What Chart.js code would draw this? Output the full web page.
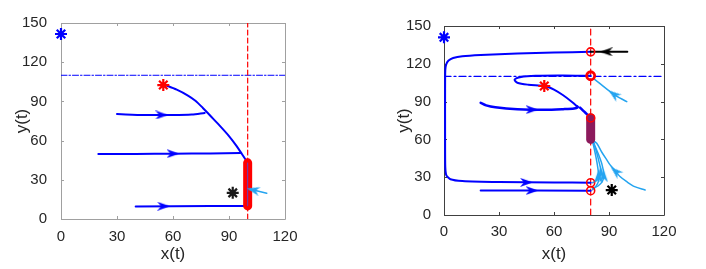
<!DOCTYPE html>
<html>
<head>
<meta charset="utf-8">
<script src="https://cdn.jsdelivr.net/npm/chart.js@4.4.1/dist/chart.umd.min.js"></script>
<style>
  body { margin: 0; background: #fff; width: 706px; height: 269px; overflow: hidden; position: relative; }
  canvas { position: absolute; top: 0; }
  #left { left: 0; }
  #right { left: 380px; }
</style>
</head>
<body>
<canvas id="left" width="330" height="269"></canvas>
<canvas id="right" width="326" height="269"></canvas>
<script>
// axis setup shared by both panels
const xTicks = [0, 30, 60, 90, 120];
const yTicks = [0, 30, 60, 90, 120, 150];

// ---- left panel (threshold x = 100) ----
const leftThreshX = 100;
const leftThreshY = 110;
const leftBlueStar = [[0, 141.6]];
const leftRedStar = [[54.8, 102.5]];
const leftBlackStar = [[92, 20]];
const leftMain = [[55, 103], [62, 99], [68, 94.5], [72, 90.5], [76, 85], [80, 79], [85, 71.5], [90, 63.5], [94, 56], [97, 49.5], [100, 43]];
const leftTraj80 = [[30, 80.3], [45, 79.6], [60, 79.6], [70, 80], [77, 81.2]];
const leftTraj50 = [[20, 49.7], [40, 49.8], [60, 50], [80, 50.2], [96, 50.5]];
const leftTraj10 = [[40, 9.6], [60, 9.8], [80, 9.9], [100, 10]];
const leftStable = [[100, 10], [100, 43]];
const leftCyan = [[110.2, 19.7], [101.5, 22.7]];
// arrows: x, y, dx, dy
const leftArrows = [[54, 79.6, 1, 0], [60, 50, 1, 0], [55, 9.8, 1, 0]];
const leftCyanArrows = [[103, 22.2, -8.7, 3]];

// ---- right panel (threshold x = 80) ----
const rightThreshX = 80;
const rightThreshY = 110;
const rightBlueStar = [[0, 141]];
const rightRedStar = [[54.7, 102.4]];
const rightBlackStar = [[91.5, 19.8]];
const rightOuter = [[80, 129.5], [60, 129], [40, 128.2], [20, 127], [10, 126], [5, 124.6], [2.5, 122.6], [1.2, 119.5], [0.7, 115],
  [0.6, 100], [0.6, 60], [0.7, 38], [1.3, 31.5], [3.5, 28.4], [10, 27], [30, 26.2], [60, 25.8], [80, 25.6]];
const rightLoop = [[80, 110.5], [65, 110.8], [50, 110.6], [42, 109.6], [38.5, 107.5], [40, 105], [46, 103.4], [55, 102.4],
  [60, 99.5], [65, 95], [70, 89.5], [72.5, 86.3]];
const rightLower = [[20, 89], [23, 87], [28, 85.5], [40, 84], [55, 83.5], [65, 84], [71, 84.6], [73, 85.6], [72.5, 86.3]];
const rightLink = [[74.2, 85.3], [76.5, 82], [78.5, 79.3], [80, 77]];
const rightBottom = [[20, 19.5], [50, 19.4], [80, 19.3]];
const rightBlack = [[100, 129.5], [80, 129.5]];
const rightStable = [[80, 60], [80, 77]];
const rightCircles = [[80, 129.5], [80, 77], [80, 25.6], [80, 19.3]];
const rightCircleBold = [[80, 110.5]];
const rightCyanTop = [[99.7, 89.9], [92, 96.4], [81.5, 108.5]];
const rightCyanRight = [[109.7, 19.8], [104, 22.5], [99.7, 26.4], [96, 30.5], [93.3, 35.2], [90.5, 40], [88.8, 43.7], [86, 50], [83.3, 56.9], [80.9, 59.5]];
const rightCyanA = [[81, 21], [84, 23], [86.5, 27], [87.2, 32], [86.2, 40], [84.3, 48], [82.3, 55], [80.8, 61]];
const rightCyanB = [[81, 25.6], [83, 27], [85, 30], [85.6, 35], [84.6, 42], [83.2, 50], [81.6, 57], [80.5, 62]];
const rightCyanC = [[81, 20], [83, 23], [84.3, 27], [84.2, 34], [83.4, 42], [82.2, 51], [80.6, 61]];
const rightArrows = [[45, 25.9, 1, 0], [48, 19.4, 1, 0], [48, 83.6, 1, 0]];
const rightBlackArrows = [[88.5, 129.5, -1, 0]];
const rightCyanArrows = [[92.6, 95.8, -1, 1.1], [93.6, 34.6, -1, 1.3], [87.1, 31, 0, 1], [85.5, 33.5, 0, 1], [84.2, 30.5, 0, 1]];

const BLUE = '#0000ff';
const CYAN = '#24a4f0';
const RED = '#ff0000';

const xy = pts => pts.map(([x, y]) => ({ x, y }));

function arrowHead(color) {
  const c = document.createElement('canvas');
  c.width = 13; c.height = 9;
  const g = c.getContext('2d');
  g.fillStyle = color;
  g.beginPath();
  g.moveTo(13, 4.5); g.lineTo(0, 0); g.lineTo(4, 4.5); g.lineTo(0, 9);
  g.closePath(); g.fill();
  return c;
}

function line(pts, color, width, dash, tension) {
  return {
    data: xy(pts), showLine: true, borderColor: color, borderWidth: width,
    borderDash: dash || [], pointRadius: 0, tension: tension || 0, borderCapStyle: 'round'
  };
}

function arrows(list, color) {
  return {
    data: xy(list), showLine: false, pointStyle: arrowHead(color), clip: false,
    rotation: ctx => {
      if (ctx.dataIndex === undefined) return 0;
      const a = list[ctx.dataIndex];
      const sx = ctx.chart.scales.x, sy = ctx.chart.scales.y;
      const dx = sx.getPixelForValue(a[0] + a[2]) - sx.getPixelForValue(a[0]);
      const dy = sy.getPixelForValue(a[1] + a[3]) - sy.getPixelForValue(a[1]);
      return Math.atan2(dy, dx) * 180 / Math.PI;
    }
  };
}

function stars(pts, color) {
  return { data: xy(pts), pointStyle: 'star', pointRadius: 6, borderColor: color, borderWidth: 2.2, clip: false };
}

function circles(pts, width) {
  return { data: xy(pts), pointStyle: 'circle', pointRadius: 4, borderColor: RED, borderWidth: width,
    backgroundColor: 'rgba(0,0,0,0)', clip: false };
}

// box with inward ticks, MATLAB style
const boxPlugin = {
  id: 'box',
  beforeDatasetsDraw(chart, args, opts) {
    const { ctx, chartArea: a, scales } = chart;
    ctx.save();
    ctx.strokeStyle = opts.color;
    ctx.lineWidth = 1;
    ctx.beginPath();
    ctx.rect(a.left + 0.5, a.top + 0.5, a.right - a.left, a.bottom - a.top);
    const L = 3;
    scales.x.ticks.forEach(t => {
      const p = Math.round(scales.x.getPixelForValue(t.value)) + 0.5;
      ctx.moveTo(p, a.bottom); ctx.lineTo(p, a.bottom - L);
      ctx.moveTo(p, a.top); ctx.lineTo(p, a.top + L);
    });
    scales.y.ticks.forEach(t => {
      const p = Math.round(scales.y.getPixelForValue(t.value)) + 0.5;
      ctx.moveTo(a.left, p); ctx.lineTo(a.left + L, p);
      ctx.moveTo(a.right, p); ctx.lineTo(a.right - L, p);
    });
    ctx.stroke();
    ctx.restore();
  }
};

function makeChart(id, datasets, pad, yWidth, xHeight, boxColor, tickPad) {
  return new Chart(document.getElementById(id), {
    type: 'scatter',
    data: { datasets: datasets.reverse() },
    options: {
      responsive: false, animation: false,
      layout: { padding: pad },
      plugins: { legend: { display: false }, tooltip: { enabled: false }, box: { color: boxColor } },
      scales: {
        x: {
          min: 0, max: 120,
          afterBuildTicks: s => { s.ticks = xTicks.map(v => ({ value: v })); },
          afterFit: s => { s.height = xHeight; },
          grid: { display: false }, border: { display: false },
          ticks: { color: '#262626', padding: tickPad[0], font: { family: 'Liberation Sans, Arial', size: 15 } },
          title: { display: true, text: 'x(t)', color: '#262626', padding: { top: 0, bottom: 0 },
            font: { family: 'Liberation Sans, Arial', size: 17 } }
        },
        y: {
          min: 0, max: 150,
          afterBuildTicks: s => { s.ticks = yTicks.map(v => ({ value: v })); },
          afterFit: s => { s.width = yWidth; },
          grid: { display: false }, border: { display: false },
          ticks: { color: '#262626', padding: tickPad[1], font: { family: 'Liberation Sans, Arial', size: 15 } },
          title: { display: true, text: 'y(t)', color: '#262626', padding: { top: 0, bottom: 0 },
            font: { family: 'Liberation Sans, Arial', size: 17 } }
        }
      }
    },
    plugins: [boxPlugin]
  });
}

// datasets listed bottom to top
const leftSets = [
  line([[0, leftThreshY], [120, leftThreshY]], BLUE, 1, [6, 2, 1.5, 2]),
  line([[leftThreshX, 0], [leftThreshX, 150]], RED, 1.2, [5, 3]),
  line(leftMain, BLUE, 2, null, 0.3),
  line(leftTraj80, BLUE, 2, null, 0.3),
  line(leftTraj50, BLUE, 2, null, 0.3),
  line(leftTraj10, BLUE, 2),
  line(leftStable, RED, 9),
  line(leftStable, '#6040c0', 1),
  line(leftCyan, CYAN, 1.5),
  arrows(leftArrows, BLUE),
  arrows(leftCyanArrows, CYAN),
  stars(leftBlueStar, BLUE),
  stars(leftRedStar, RED),
  stars(leftBlackStar, '#1a1a1a')
];

const rightSets = [
  line([[0, rightThreshY], [120, rightThreshY]], BLUE, 1.2, [7, 3, 2, 3]),
  line([[rightThreshX, 0], [rightThreshX, 150]], RED, 1.2, [6, 4]),
  line(rightCyanTop, CYAN, 1.5, null, 0.3),
  line(rightCyanRight, CYAN, 1.5, null, 0.3),
  line(rightCyanA, CYAN, 1.5, null, 0.3),
  line(rightCyanB, CYAN, 1.5, null, 0.3),
  line(rightCyanC, CYAN, 1.5, null, 0.3),
  line(rightOuter, BLUE, 2, null, 0.2),
  line(rightLoop, BLUE, 2, null, 0.3),
  line(rightLower, BLUE, 2.5, null, 0.3),
  line(rightLink, BLUE, 2.5, null, 0.3),
  line(rightBottom, BLUE, 2),
  line(rightBlack, '#000000', 2),
  line(rightStable, '#8c1a5c', 9),
  circles(rightCircles, 1.6),
  circles(rightCircleBold, 2.8),
  arrows(rightArrows, BLUE),
  arrows(rightBlackArrows, '#000000'),
  arrows(rightCyanArrows, CYAN),
  stars(rightBlueStar, BLUE),
  stars(rightRedStar, RED),
  stars(rightBlackStar, '#000000')
];

makeChart('left', leftSets, { left: 12, right: 45, top: 23, bottom: 4 }, 49, 46, '#a0a0a0', [1, 6]);
makeChart('right', rightSets, { left: 14, right: 42, top: 26, bottom: 4 }, 50, 50, '#404040', [0, 5]);
</script>
</body>
</html>
